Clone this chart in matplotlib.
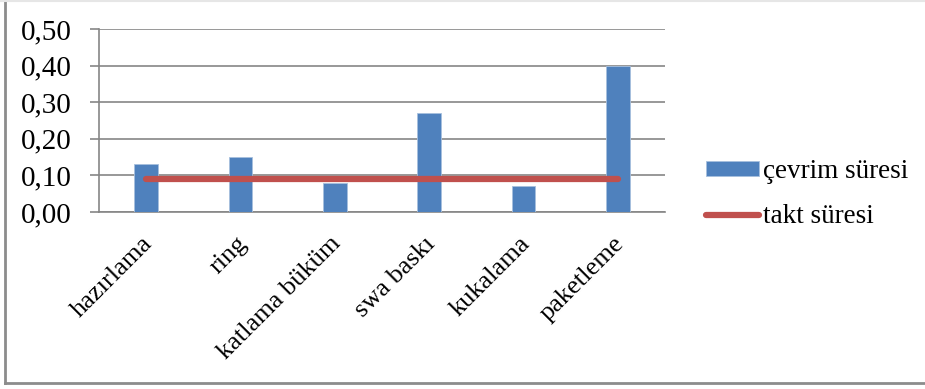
import matplotlib
matplotlib.use("Agg")
import matplotlib.pyplot as plt
from matplotlib.lines import Line2D
from matplotlib.transforms import ScaledTranslation
from matplotlib.ticker import FuncFormatter

categories = ["hazırlama", "ring", "katlama büküm", "swa baskı", "kukalama", "paketleme"]
cycle_time = [0.13, 0.15, 0.08, 0.27, 0.07, 0.40]
takt_time = [0.09, 0.09, 0.09, 0.09, 0.09, 0.09]
yticks = [0.0, 0.1, 0.2, 0.3, 0.4, 0.5]

plt.rcParams['font.family'] = ['Liberation Serif', 'DejaVu Serif']

fig = plt.figure(figsize=(9.25, 3.89), dpi=100)
ax = fig.add_axes([99/925, 1-212/389, (665-99)/925, (212-29)/389])

x = list(range(len(categories)))
bars = ax.bar(x, cycle_time, width=0.25, color="#4F81BD", edgecolor="#A7C0DE", linewidth=0.6,
              label="çevrim süresi", zorder=3)
line, = ax.plot(x, takt_time, color="#C0504D", linewidth=4.5, solid_capstyle="round",
                label="takt süresi", zorder=4)

ax.set_xlim(-0.5, len(categories)-0.5)
ax.set_ylim(0, 0.5)
ax.set_yticks(yticks)
ax.yaxis.set_major_formatter(FuncFormatter(lambda v, p: f"{v:.2f}".replace(".", ",")))
ax.grid(axis="y", color="#868686", linewidth=1.2, zorder=0)
ax.set_axisbelow(True)
for s in ["top", "right"]:
    ax.spines[s].set_visible(False)
ax.spines["left"].set_color("#868686")
ax.spines["bottom"].set_color("#868686")
ax.spines["left"].set_linewidth(1.2)
ax.spines["bottom"].set_linewidth(1.2)
ax.tick_params(axis="y", direction="out", length=6.5, width=1.2, color="#868686",
               labelsize=21, pad=13)
ax.tick_params(axis="x", length=0, labelsize=19, pad=15)
ax.set_xticks(x)
ax.set_xticklabels(categories, rotation=45, ha="right", va="top", rotation_mode="anchor")
shift = ScaledTranslation(-5/100, 0/100, fig.dpi_scale_trans)
for lab in ax.get_xticklabels():
    lab.set_transform(lab.get_transform() + shift)

leg = fig.legend(handles=[bars, line], labels=["çevrim süresi", "takt süresi"],
                 loc="upper left", bbox_to_anchor=(706/925, 1-159/389), frameon=False,
                 fontsize=19.5, handlelength=1.95, handleheight=0.5, handletextpad=0.15,
                 labelspacing=0.75, borderpad=0, borderaxespad=0)

# outer frame (only left and bottom visible, faint top)
fig.add_artist(Line2D([5/925, 5/925], [1-383/389, 1], transform=fig.transFigure,
                      color="#8C8C8C", linewidth=2.0))
fig.add_artist(Line2D([5/925, 1], [1-383/389, 1-383/389], transform=fig.transFigure,
                      color="#8C8C8C", linewidth=2.0))
fig.add_artist(Line2D([0, 1], [1-0.5/389, 1-0.5/389], transform=fig.transFigure,
                      color="#E6E6E6", linewidth=1.5))

fig.savefig("out.png", dpi=100)
